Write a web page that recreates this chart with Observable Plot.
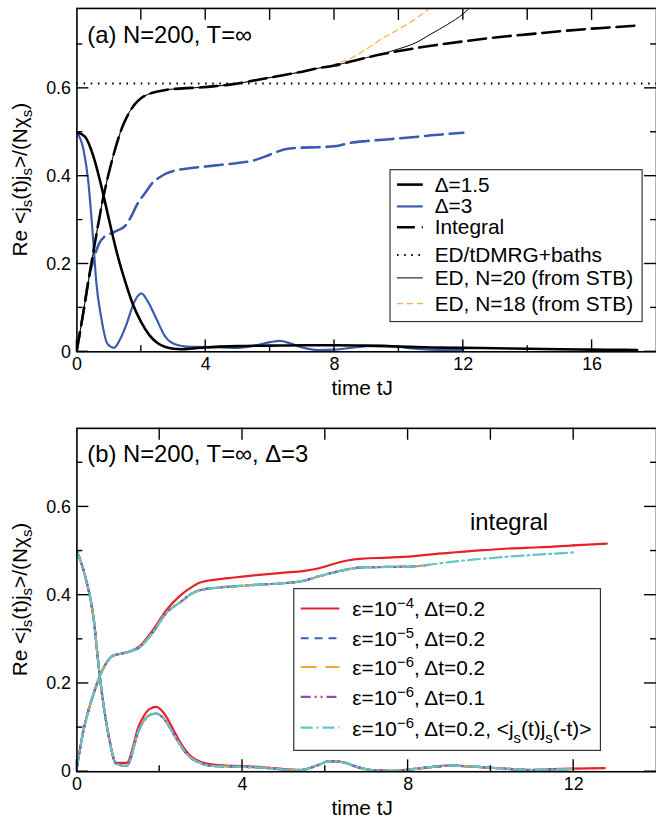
<!DOCTYPE html>
<html><head><meta charset="utf-8">
<script src="https://cdn.jsdelivr.net/npm/d3@7"></script>
<script src="https://cdn.jsdelivr.net/npm/@observablehq/plot@0.6"></script>
<style>
html,body{margin:0;padding:0;background:#fff;}
#chart{width:656px;height:825px;overflow:hidden;}
#chart svg{display:block;overflow:visible;}
</style></head><body><div id="chart"></div>
<script>
const FONT = "'Liberation Sans', Arial, Helvetica, sans-serif";

// ---------------- Panel (a) data ----------------
const tA15 = [0,0.25,0.5,0.75,1.0,1.25,1.5,1.75,2.0,2.25,2.5,2.75,3.0,3.25,3.5,4,5,6,7,8,9,10,11,12,13,14,15,16,17,17.4];
const vA15 = [0.5,0.49,0.448,0.38,0.3,0.223,0.16,0.106,0.067,0.038,0.02,0.011,0.007,0.006,0.007,0.01,0.013,0.014,0.015,0.015,0.014,0.012,0.01,0.009,0.008,0.007,0.006,0.005,0.0045,0.004];
const tA3 = [0,0.2,0.35,0.5,0.6,0.75,0.95,1.15,1.35,1.55,1.75,1.9,2.0,2.2,2.45,2.75,3.05,3.4,4,4.5,5,5.5,6,6.3,6.6,7,7.5,8,8.5,9,9.4,10,10.5,11,11.5,12];
const vA3 = [0.5,0.462,0.39,0.26,0.16,0.08,0.018,0.009,0.03,0.065,0.108,0.128,0.133,0.115,0.078,0.034,0.017,0.012,0.011,0.01,0.009,0.014,0.022,0.025,0.02,0.01,0.004,0.005,0.009,0.013,0.014,0.011,0.007,0.005,0.004,0.004];
const tInt15 = [0,0.2,0.4,0.6,0.8,1.0,1.2,1.4,1.6,1.8,2.0,2.2,2.5,2.8,3.3,3.8,4.3,4.8,5.3,5.8,6.4,7,7.5,8,8.5,9,9.5,10,11,12,13,14,15,16,17,17.4];
const vInt15 = [0.005,0.09,0.18,0.265,0.345,0.41,0.465,0.51,0.542,0.564,0.578,0.586,0.593,0.597,0.6,0.602,0.605,0.609,0.615,0.622,0.63,0.638,0.646,0.652,0.661,0.67,0.678,0.685,0.697,0.707,0.716,0.723,0.73,0.736,0.741,0.743];
const tInt3 = [0,0.2,0.4,0.5,0.6,0.7,0.85,1.0,1.25,1.5,1.7,1.85,2.0,2.15,2.35,2.56,2.8,3.0,3.5,4,4.5,5,5.5,5.85,6.2,6.5,7,7.5,8,8.5,9,9.5,10,10.6,11,11.5,12];
const vInt3 = [0.005,0.09,0.18,0.205,0.23,0.248,0.262,0.268,0.276,0.287,0.31,0.333,0.35,0.365,0.385,0.397,0.407,0.412,0.418,0.422,0.426,0.43,0.436,0.445,0.455,0.462,0.465,0.466,0.468,0.476,0.48,0.483,0.486,0.49,0.493,0.496,0.499];
const edBaths = [0.611];
const tN20 = [0,0.2,0.4,0.6,0.8,1.0,1.2,1.4,1.6,1.8,2.0,2.2,2.5,2.8,3.3,3.8,4.3,4.8,5.3,5.8,6.4,7,7.5,8,8.5,9,9.5,10,10.5,11,11.5,12,12.3];
const vN20 = [0.005,0.09,0.18,0.265,0.345,0.41,0.465,0.51,0.542,0.564,0.578,0.586,0.593,0.597,0.6,0.602,0.605,0.609,0.615,0.622,0.63,0.638,0.646,0.652,0.661,0.67,0.679,0.69,0.703,0.724,0.745,0.77,0.79];
const tN18 = [0,0.2,0.4,0.6,0.8,1.0,1.2,1.4,1.6,1.8,2.0,2.2,2.5,2.8,3.3,3.8,4.3,4.8,5.3,5.8,6.4,7,7.5,8,8.5,9,9.5,10,10.5,11,11.2];
const vN18 = [0.005,0.09,0.18,0.265,0.345,0.41,0.465,0.51,0.542,0.564,0.578,0.586,0.593,0.597,0.6,0.602,0.605,0.609,0.615,0.622,0.63,0.638,0.646,0.655,0.668,0.69,0.714,0.735,0.757,0.785,0.795];

// ---------------- Panel (b) data ----------------
const tDecB = [0,0.2,0.4,0.55,0.75,0.95,1.2,1.5,1.75,1.92,2.1,2.32,2.5,2.72,3.0,3.3,3.6,4,4.5,5,5.4,5.8,6.1,6.4,6.8,7.2,7.6,8,8.5,9,9.5,10,10.5,11,11.5,12];
const vDecBRed = [0.5,0.443,0.35,0.218,0.09,0.02,0.02,0.105,0.142,0.147,0.133,0.097,0.066,0.038,0.022,0.016,0.014,0.013,0.01,0.006,0.004,0.014,0.024,0.022,0.01,0.003,0.002,0.005,0.01,0.014,0.012,0.009,0.006,0.004,0.006,0.007];
const vDecBOther = [0.5,0.443,0.35,0.218,0.09,0.018,0.013,0.095,0.128,0.132,0.12,0.088,0.06,0.034,0.019,0.013,0.012,0.011,0.009,0.005,0.004,0.014,0.024,0.022,0.01,0.003,0.002,0.005,0.01,0.014,0.012,0.009,0.006,0.004,0.005,0.006];
const tDecBRedTail = [12,12.75];
const vDecBRedTail = [0.007,0.008];
const tIntB = [0,0.15,0.39,0.63,0.87,1.19,1.51,1.83,2.16,2.48,2.8,2.96,3.4,3.8,4.4,5.0,5.5,5.85,6.1,6.5,6.9,7.5,8.1,8.5,9.0,9.5,10,10.5,11,11.5,12];
const vIntBRed = [0.01,0.09,0.173,0.233,0.263,0.27,0.284,0.32,0.366,0.398,0.42,0.428,0.436,0.44,0.446,0.451,0.455,0.461,0.468,0.478,0.483,0.485,0.488,0.492,0.496,0.5,0.503,0.506,0.508,0.51,0.513];
const vIntBOther = [0.01,0.09,0.173,0.233,0.263,0.27,0.282,0.315,0.36,0.383,0.405,0.411,0.417,0.42,0.424,0.427,0.433,0.443,0.449,0.458,0.463,0.464,0.465,0.469,0.475,0.48,0.484,0.488,0.491,0.494,0.497];
const tIntBRedTail = [12,12.8];
const vIntBRedTail = [0.513,0.517];

const zip = (t, v) => t.map((x, i) => ({t: x, v: v[i]}));

const seriesA = [
  {label: "Δ=1.5", color: "#000000", width: 2.6, dash: null, legendY: 186},
  {label: "Δ=3", color: "#3a5bb0", width: 2.2, dash: null, legendY: 208},
  {label: "Integral", color: "#000000", width: 2.6, dash: "18,7", legendY: 229},
  {label: "ED/tDMRG+baths", color: "#000000", width: 2, dash: "1.6,5.6", legendY: 257},
  {label: "ED, N=20 (from STB)", color: "#000000", width: 1, dash: null, legendY: 280},
  {label: "ED, N=18 (from STB)", color: "#f5ad45", width: 1.2, dash: "6,4", legendY: 306}
];
const seriesB = [
  {eps: "−4", rest: ", Δt=0.2", color: "#e8202a", width: 2.2, dash: null, legendY: 613},
  {eps: "−5", rest: ", Δt=0.2", color: "#3d5eb0", width: 2.2, dash: "8,6", legendY: 643},
  {eps: "−6", rest: ", Δt=0.2", color: "#f7a52a", width: 2.2, dash: "16,9", legendY: 672},
  {eps: "−6", rest: ", Δt=0.1", color: "#8c4fae", width: 2.2, dash: "10,4,2,4,2,4", legendY: 702},
  {eps: "−6", rest: ", Δt=0.2, ", color: "#62c6c2", width: 2.2, dash: "12,4,2,4", legendY: 733, corr: true}
];

const xTicksA = [0,4,8,12,16], xMinorA = [2,6,10,14], xTopA = [2,4,6,8,10,12,14,16];
const xTicksB = [0,4,8,12], xMinorB = [2,6,10], xTopB = [2,4,6,8,10,12];
const yTicks = [0,0.2,0.4,0.6], yMinor = [0.1,0.3,0.5,0.7];
const fmtY = d => d === 0 ? "0" : d3.format(".1f")(d);

function axes(xMajor) {
  return [
    Plot.axisX({anchor: "bottom", ticks: xMajor, tickSize: 0, tickPadding: 6, tickFormat: d => String(d), label: null, fontSize: 18}),
    Plot.axisY({anchor: "left", ticks: yTicks, tickSize: 0, tickPadding: 6, tickFormat: fmtY, label: null, fontSize: 18}),
    Plot.frame({stroke: "black", strokeWidth: 1.6})
  ];
}

const L = (data, s, extra = {}) => Plot.line(data, {x: "t", y: "v", stroke: s.color, strokeWidth: s.width, strokeDasharray: s.dash, curve: "monotone-x", clip: true, ...extra});

const xMaxA = 18, yMaxA = 0.782, xMaxB = 14, yMaxB = 0.778;

const plotA = Plot.plot({
  width: 661, height: 412, marginLeft: 77, marginRight: 0, marginTop: 8, marginBottom: 58,
  style: {fontFamily: FONT, fontSize: "18px", color: "black", background: "transparent"},
  x: {domain: [0, xMaxA]}, y: {domain: [0, yMaxA]},
  marks: [
    Plot.ruleY(edBaths, {stroke: seriesA[3].color, strokeWidth: seriesA[3].width, strokeDasharray: seriesA[3].dash}),
    L(zip(tInt3, vInt3), {...seriesA[2], color: seriesA[1].color}),
    L(zip(tA3, vA3), seriesA[1]),
    L(zip(tA15, vA15), seriesA[0]),
    L(zip(tN18, vN18), seriesA[5]),
    L(zip(tN20, vN20), seriesA[4]),
    L(zip(tInt15, vInt15), seriesA[2]),
    ...axes(xTicksA)
  ]
});

const plotB = Plot.plot({
  width: 661, height: 413, marginLeft: 77, marginRight: 0, marginTop: 19, marginBottom: 48,
  style: {fontFamily: FONT, fontSize: "18px", color: "black", background: "transparent"},
  x: {domain: [0, xMaxB]}, y: {domain: [0, yMaxB]},
  marks: [
    L(zip(tDecB, vDecBRed), seriesB[0]),
    L(zip(tDecBRedTail, vDecBRedTail), seriesB[0]),
    L(zip(tIntB, vIntBRed), seriesB[0]),
    L(zip(tIntBRedTail, vIntBRedTail), seriesB[0]),
    ...seriesB.slice(1).map(s => L(zip(tDecB, vDecBOther), s)),
    ...seriesB.slice(1, 4).map(s => L(zip(tIntB.filter(t => t <= 8.5), vIntBOther), s)),
    L(zip(tIntB, vIntBOther), seriesB[4]),
    ...axes(xTicksB)
  ]
});

const root = document.getElementById("chart");
root.appendChild(plotA);
root.appendChild(plotB);

// inward tick marks, positioned with the plot's own x / y scales
function drawTicks(svg, xMajor, xMinor, xTop) {
  const sx = svg.scale("x"), sy = svg.scale("y");
  const [x0, x1] = sx.range, [yb, yt] = sy.range;
  const g = d3.select(svg).append("g").attr("stroke", "black").attr("stroke-width", 1.4);
  const seg = (a, b, c, d) => g.append("line").attr("x1", a).attr("y1", b).attr("x2", c).attr("y2", d);
  xMajor.forEach(v => seg(sx.apply(v), yb, sx.apply(v), yb - 12));
  xMinor.forEach(v => seg(sx.apply(v), yb, sx.apply(v), yb - 6));
  xTop.forEach(v => seg(sx.apply(v), yt, sx.apply(v), yt + 12));
  yTicks.forEach(v => { seg(x0, sy.apply(v), x0 + 12, sy.apply(v)); seg(x1, sy.apply(v), x1 - 12, sy.apply(v)); });
  yMinor.forEach(v => { seg(x0, sy.apply(v), x0 + 6, sy.apply(v)); seg(x1, sy.apply(v), x1 - 6, sy.apply(v)); });
}
drawTicks(plotA, xTicksA, xMinorA, xTopA);
drawTicks(plotB, xTicksB, xMinorB, xTopB);

function addSub(text, parts, size, subSize, shift) {
  let cur = 0;
  parts.forEach(([s, k]) => {
    const target = k === "sub" ? shift : k === "sup" ? -shift : 0;
    text.append("tspan").attr("dy", target - cur).attr("font-size", k === "n" ? size : subSize).text(s);
    cur = target;
  });
}

function decorate(svg, {title, titleBaseline, yCenter, axisY}) {
  const g = d3.select(svg).append("g").attr("font-family", FONT).attr("fill", "black").attr("text-anchor", "start");
  g.append("text").attr("x", 88).attr("y", titleBaseline).attr("font-size", 24).text(title);
  g.append("text").attr("x", 365).attr("y", axisY + 44).attr("font-size", 21).attr("text-anchor", "middle").text("time tJ");
  const yl = g.append("text").attr("transform", `translate(27,${yCenter}) rotate(-90)`).attr("text-anchor", "middle").attr("font-size", 21);
  addSub(yl, [["Re <j", "n"], ["s", "sub"], ["(t)j", "n"], ["s", "sub"], [">/(Nχ", "n"], ["s", "sub"], [")", "n"]], 21, 15, 5);
  return g;
}

const gA = decorate(plotA, {title: "(a) N=200, T=∞", titleBaseline: 43, yCenter: 181, axisY: 354});
const gB = decorate(plotB, {title: "(b) N=200, T=∞, Δ=3", titleBaseline: 53, yCenter: 192, axisY: 365});

// legend (a)
gA.append("rect").attr("x", 393).attr("y", 171).attr("width", 254).attr("height", 153).attr("fill", "white").attr("stroke", "#333").attr("stroke-width", 1.2);
seriesA.forEach(s => {
  gA.append("line").attr("x1", 400).attr("x2", 426).attr("y1", s.legendY).attr("y2", s.legendY)
    .attr("stroke", s.color).attr("stroke-width", s.width).attr("stroke-dasharray", s.dash);
  gA.append("text").attr("x", 438).attr("y", s.legendY + 7).attr("font-size", 21).text(s.label);
});

// "integral" annotation (b), placed through the plot's scales
const intLabel = [{t: 10.45, v: 0.546, text: "integral"}];
const sxB = plotB.scale("x"), syB = plotB.scale("y");
intLabel.forEach(d => gB.append("text").attr("x", sxB.apply(d.t)).attr("y", syB.apply(d.v)).attr("text-anchor", "middle").attr("font-size", 24).text(d.text));

// legend (b)
const off = 412;
gB.append("rect").attr("x", 296).attr("y", 593 - off).attr("width", 309).attr("height", 163).attr("fill", "white").attr("stroke", "#333").attr("stroke-width", 1.2);
seriesB.forEach(s => {
  const y = s.legendY - off;
  gB.append("line").attr("x1", 303).attr("x2", 342).attr("y1", y).attr("y2", y)
    .attr("stroke", s.color).attr("stroke-width", s.width).attr("stroke-dasharray", s.dash);
  const t = gB.append("text").attr("x", 355).attr("y", y + 8).attr("font-size", 21);
  const parts = [["ε=10", "n"], [s.eps, "sup"], [s.rest, "n"]];
  if (s.corr) parts.push(["<j", "n"], ["s", "sub"], ["(t)j", "n"], ["s", "sub"], ["(-t)>", "n"]);
  addSub(t, parts, 21, 15, 8);
});
</script></body></html>
